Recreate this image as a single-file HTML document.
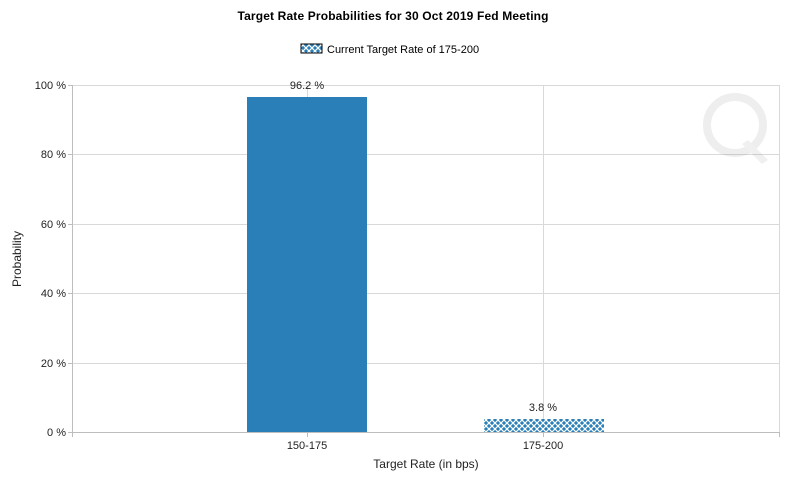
<!DOCTYPE html>
<html><head><style>body{margin:0;background:#fff}svg{display:block}text{font-family:"Liberation Sans",sans-serif}</style></head><body>
<svg width="799" height="481" xmlns="http://www.w3.org/2000/svg">
<defs><pattern id="p" width="6" height="6" patternUnits="userSpaceOnUse"><rect width="6" height="6" fill="#2a7fb8"/><path d="M0,0L6,6M6,0L0,6" stroke="#fff" stroke-width="1.2"/></pattern></defs>
<text x="393" y="20" font-size="12" font-weight="bold" text-anchor="middle" textLength="311">Target Rate Probabilities for 30 Oct 2019 Fed Meeting</text>
<rect x="301" y="44" width="21" height="9" fill="url(#p)" stroke="#000" stroke-width="1"/>
<text x="327" y="53" font-size="11">Current Target Rate of 175-200</text>
<g stroke="#d9d9d9" stroke-width="1">
<line x1="72" y1="85.5" x2="780" y2="85.5"/><line x1="72" y1="154.5" x2="780" y2="154.5"/><line x1="72" y1="224.5" x2="780" y2="224.5"/><line x1="72" y1="293.5" x2="780" y2="293.5"/><line x1="72" y1="363.5" x2="780" y2="363.5"/>
<line x1="307.5" y1="85" x2="307.5" y2="432"/><line x1="543.5" y1="85" x2="543.5" y2="432"/><line x1="779.5" y1="85" x2="779.5" y2="432"/>
</g>
<g opacity="0.12" fill="#888"><circle cx="735" cy="125" r="28" fill="none" stroke="#777" stroke-width="8"/><path d="M748,140l20,20l-6,4l-20,-20z"/></g>
<rect x="247" y="97" width="120" height="335" fill="#2a7fb8"/>
<rect x="484" y="419" width="120" height="13" fill="url(#p)"/>
<g stroke="#bdbdbd" stroke-width="1">
<line x1="72.5" y1="85" x2="72.5" y2="437"/><line x1="68" y1="432.5" x2="780" y2="432.5"/>
<line x1="68" y1="85.5" x2="72" y2="85.5"/><line x1="68" y1="154.5" x2="72" y2="154.5"/><line x1="68" y1="224.5" x2="72" y2="224.5"/><line x1="68" y1="293.5" x2="72" y2="293.5"/><line x1="68" y1="363.5" x2="72" y2="363.5"/>
<line x1="307.5" y1="432" x2="307.5" y2="437"/><line x1="543.5" y1="432" x2="543.5" y2="437"/><line x1="779.5" y1="432" x2="779.5" y2="437"/>
</g>
<g font-size="11" text-anchor="end" fill="#222">
<text x="66" y="89">100 %</text><text x="66" y="158">80 %</text><text x="66" y="228">60 %</text><text x="66" y="297">40 %</text><text x="66" y="367">20 %</text><text x="66" y="436">0 %</text>
</g>
<g font-size="11" text-anchor="middle" fill="#222">
<text x="307" y="89">96.2 %</text><text x="543" y="411">3.8 %</text>
<text x="307" y="449">150-175</text><text x="543" y="449">175-200</text>
<text x="426" y="468" font-size="12">Target Rate (in bps)</text>
<text transform="translate(21,259) rotate(-90)" font-size="12">Probability</text>
</g>
</svg>
</body></html>
